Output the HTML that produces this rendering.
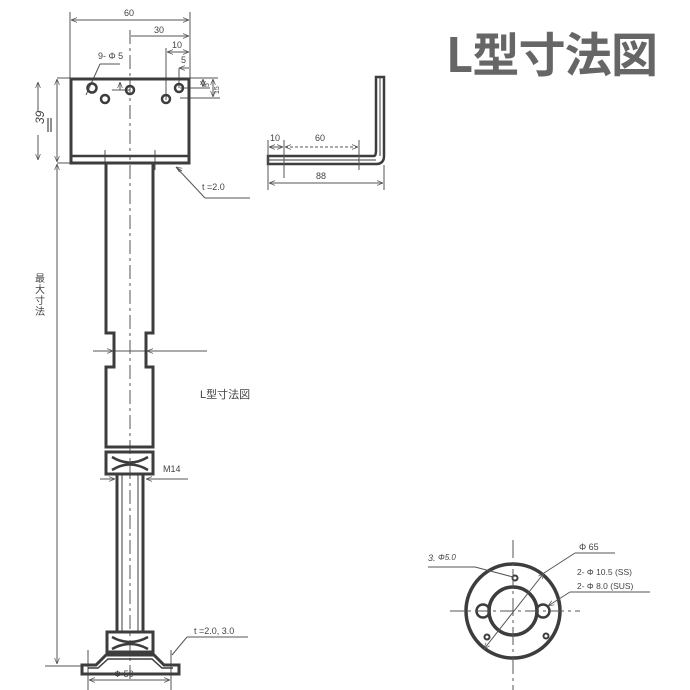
<!DOCTYPE html>
<html><head><meta charset="utf-8"><style>
html,body{margin:0;padding:0;background:#fff;width:690px;height:690px;overflow:hidden}
svg{display:block}
text{font-family:"Liberation Sans","Noto Sans CJK JP",sans-serif;fill:#444}
</style></head><body>
<svg width="690" height="690" viewBox="0 0 690 690" xmlns="http://www.w3.org/2000/svg">
<defs>
<marker id="a" viewBox="0 0 10 10" refX="10" refY="5" markerWidth="6" markerHeight="6" orient="auto-start-reverse"><path d="M0,1 L10,5 L0,9" fill="none" stroke="#555" stroke-width="1.2"/></marker>
</defs>
<text x="446" y="72" font-size="47" font-weight="bold" style="fill:#666;font-family:'Noto Sans CJK JP',sans-serif" textLength="212">L型寸法図</text>

<g stroke="#555" stroke-width="1" fill="none">
<line x1="70" y1="12" x2="70" y2="78"/><line x1="190" y1="12" x2="190" y2="78"/>
<line x1="71" y1="20" x2="189" y2="20" marker-start="url(#a)" marker-end="url(#a)"/>
<line x1="130" y1="30" x2="130" y2="160" stroke-dasharray="14,4,3,4"/>
<line x1="131" y1="36" x2="189" y2="36" marker-end="url(#a)"/>
<line x1="166" y1="48" x2="166" y2="100"/>
<line x1="167" y1="52" x2="189" y2="52" marker-start="url(#a)" marker-end="url(#a)"/>
<line x1="179" y1="68" x2="189" y2="68" marker-start="url(#a)"/>
<line x1="179" y1="68" x2="179" y2="88"/>
<line x1="190" y1="78" x2="218" y2="78"/><line x1="180" y1="88" x2="210" y2="88"/><line x1="180" y1="98" x2="220" y2="98"/>
<line x1="203" y1="79" x2="203" y2="87" marker-start="url(#a)" marker-end="url(#a)"/>
<line x1="213" y1="79" x2="213" y2="97" marker-start="url(#a)" marker-end="url(#a)"/>
<line x1="120" y1="82" x2="120" y2="90" marker-start="url(#a)"/>
<line x1="112" y1="90" x2="130" y2="90"/>
<line x1="86" y1="95" x2="100" y2="64"/><line x1="100" y1="64" x2="120" y2="64"/>
<line x1="57" y1="78" x2="70" y2="78"/>
<line x1="57" y1="163" x2="70" y2="163"/>
<line x1="57" y1="79" x2="57" y2="162" marker-start="url(#a)" marker-end="url(#a)"/>
<line x1="38" y1="82" x2="38" y2="112" marker-start="url(#a)"/>
<line x1="38" y1="135" x2="38" y2="160" marker-end="url(#a)"/>
<line x1="48" y1="118" x2="48" y2="132" stroke="#222"/><line x1="51" y1="118" x2="51" y2="132" stroke="#222"/>
<line x1="57" y1="164" x2="57" y2="664" marker-start="url(#a)" marker-end="url(#a)"/>
<line x1="45" y1="666" x2="95" y2="666"/>
<line x1="130" y1="165" x2="130" y2="680" stroke-dasharray="14,4,3,4"/>
<line x1="93" y1="351" x2="113" y2="351" marker-end="url(#a)"/>
<line x1="147" y1="351" x2="207" y2="351" marker-start="url(#a)"/>
<line x1="114" y1="351" x2="146" y2="351"/>
<line x1="100" y1="479" x2="115" y2="479" marker-end="url(#a)"/>
<line x1="146" y1="479" x2="188" y2="479" marker-start="url(#a)"/>
<line x1="176" y1="167" x2="205" y2="198"/><line x1="205" y1="198" x2="250" y2="198"/>
<line x1="176" y1="167" x2="182" y2="171" marker-start="url(#a)"/>
<line x1="172" y1="655" x2="187" y2="637"/><line x1="187" y1="637" x2="248" y2="637"/>
<line x1="88" y1="650" x2="88" y2="690"/><line x1="171" y1="650" x2="171" y2="690"/>
<line x1="89" y1="680" x2="170" y2="680" marker-start="url(#a)" marker-end="url(#a)"/>
<line x1="155" y1="150" x2="155" y2="170"/><line x1="105" y1="150" x2="105" y2="170"/>
</g>

<g stroke="#3d3d3d" fill="none">
<rect x="71" y="79" width="118" height="84" stroke-width="3"/>
<line x1="71" y1="156" x2="189" y2="156" stroke-width="2.5"/>
<circle cx="92" cy="88" r="4.5" stroke-width="2.5"/>
<circle cx="105" cy="99" r="4" stroke-width="2.5"/>
<circle cx="130" cy="90" r="4" stroke-width="2.5"/>
<circle cx="179" cy="88" r="4" stroke-width="2.5"/>
<circle cx="166" cy="99" r="4" stroke-width="2.5"/>
<path d="M106,163 V333 H114 V367 H106 V447 H153 V367 H146 V333 H153 V163" stroke-width="3"/>
<rect x="106" y="452" width="47" height="22" stroke-width="3"/>
<path d="M112,457 Q130,468 148,457 M112,470 Q130,459 148,470" stroke-width="2.5"/>
<line x1="117" y1="474" x2="117" y2="632" stroke-width="3"/>
<line x1="143" y1="474" x2="143" y2="632" stroke-width="3"/>
<line x1="122" y1="474" x2="122" y2="632" stroke-width="1"/>
<line x1="138" y1="474" x2="138" y2="632" stroke-width="1"/>
<rect x="107" y="632" width="46" height="20" stroke-width="3"/>
<path d="M112,637 Q130,647 148,637 M112,649 Q130,639 148,649" stroke-width="2.5"/>
<path d="M82,665 H96 L106,655 H154 L164,665 H179 V674 H82 Z" stroke-width="3"/>
<path d="M88,668 H98 L108,659 H152 L162,668 H173" stroke-width="1.5"/>
<path d="M268,156 H374 Q376,156 376,150 V77 H384 V156 Q384,164 376,164 H268 Z" stroke-width="2.5"/>
<line x1="268" y1="160" x2="376" y2="160" stroke-width="1"/>
<line x1="380" y1="77" x2="380" y2="156" stroke-width="1"/>
<circle cx="513" cy="611" r="47" stroke-width="3.5"/>
<circle cx="513" cy="611" r="24" stroke-width="3.5"/>
<circle cx="483" cy="611" r="6.5" stroke-width="2.5"/>
<circle cx="543" cy="611" r="6.5" stroke-width="2.5"/>
<circle cx="515" cy="578" r="2.5" stroke-width="2"/>
<circle cx="487" cy="637" r="2.5" stroke-width="2"/>
<circle cx="546" cy="636" r="2.5" stroke-width="2"/>
</g>
<g stroke="#555" stroke-width="1" fill="none">
<line x1="513" y1="540" x2="513" y2="690" stroke-dasharray="18,4,3,4"/>
<line x1="450" y1="611" x2="580" y2="611" stroke-dasharray="14,4,3,4"/>
<line x1="484" y1="649" x2="544" y2="573" marker-start="url(#a)" marker-end="url(#a)"/>
<line x1="544" y1="573" x2="575" y2="553"/><line x1="575" y1="553" x2="615" y2="553"/>
<line x1="548" y1="606" x2="570" y2="592" marker-start="url(#a)"/><line x1="570" y1="592" x2="650" y2="592"/>
<line x1="428" y1="567" x2="475" y2="567"/><line x1="475" y1="567" x2="513" y2="577"/>
<line x1="268" y1="140" x2="268" y2="190"/><line x1="284" y1="140" x2="284" y2="178"/><line x1="359" y1="140" x2="359" y2="170"/><line x1="384" y1="165" x2="384" y2="190"/>
<line x1="269" y1="147" x2="283" y2="147" marker-start="url(#a)" marker-end="url(#a)"/>
<line x1="285" y1="147" x2="358" y2="147" marker-start="url(#a)" marker-end="url(#a)" stroke-dasharray="3,2"/>
<line x1="269" y1="183" x2="383" y2="183" marker-start="url(#a)" marker-end="url(#a)"/>
</g>

<g font-size="9">
<text x="124" y="16">60</text>
<text x="154" y="33">30</text>
<text x="172" y="48">10</text>
<text x="181" y="63">5</text>
<text x="98" y="59">9- Φ 5</text>
<text x="209" y="87" font-size="7" transform="rotate(-90 209 87)">5</text>
<text x="219" y="94" font-size="7" transform="rotate(-90 219 94)">15</text>
<text x="202" y="190">t =2.0</text>
<text x="270" y="141">10</text>
<text x="315" y="141">60</text>
<text x="316" y="179">88</text>
<text x="163" y="472">M14</text>
<text x="194" y="634">t =2.0,  3.0</text>
<text x="114" y="677">Φ  50</text>
<text x="579" y="550">Φ 65</text>
<text x="577" y="575" font-size="8.5">2- Φ 10.5  (SS)</text>
<text x="577" y="589" font-size="8.5">2- Φ 8.0  (SUS)</text>
<text x="428" y="561" font-style="italic">3.</text>
<text x="438" y="560" font-style="italic" font-size="8">Φ5.0</text>
<text x="200" y="398" font-size="11">L型寸法図</text>
<text x="44" y="124" font-size="12" font-style="italic" transform="rotate(-90 44 124)">39</text>
</g>
<g font-size="10" text-anchor="middle">
<text x="40" y="282">最</text><text x="40" y="293">大</text><text x="40" y="304">寸</text><text x="40" y="315">法</text>
</g>
</svg>
</body></html>
